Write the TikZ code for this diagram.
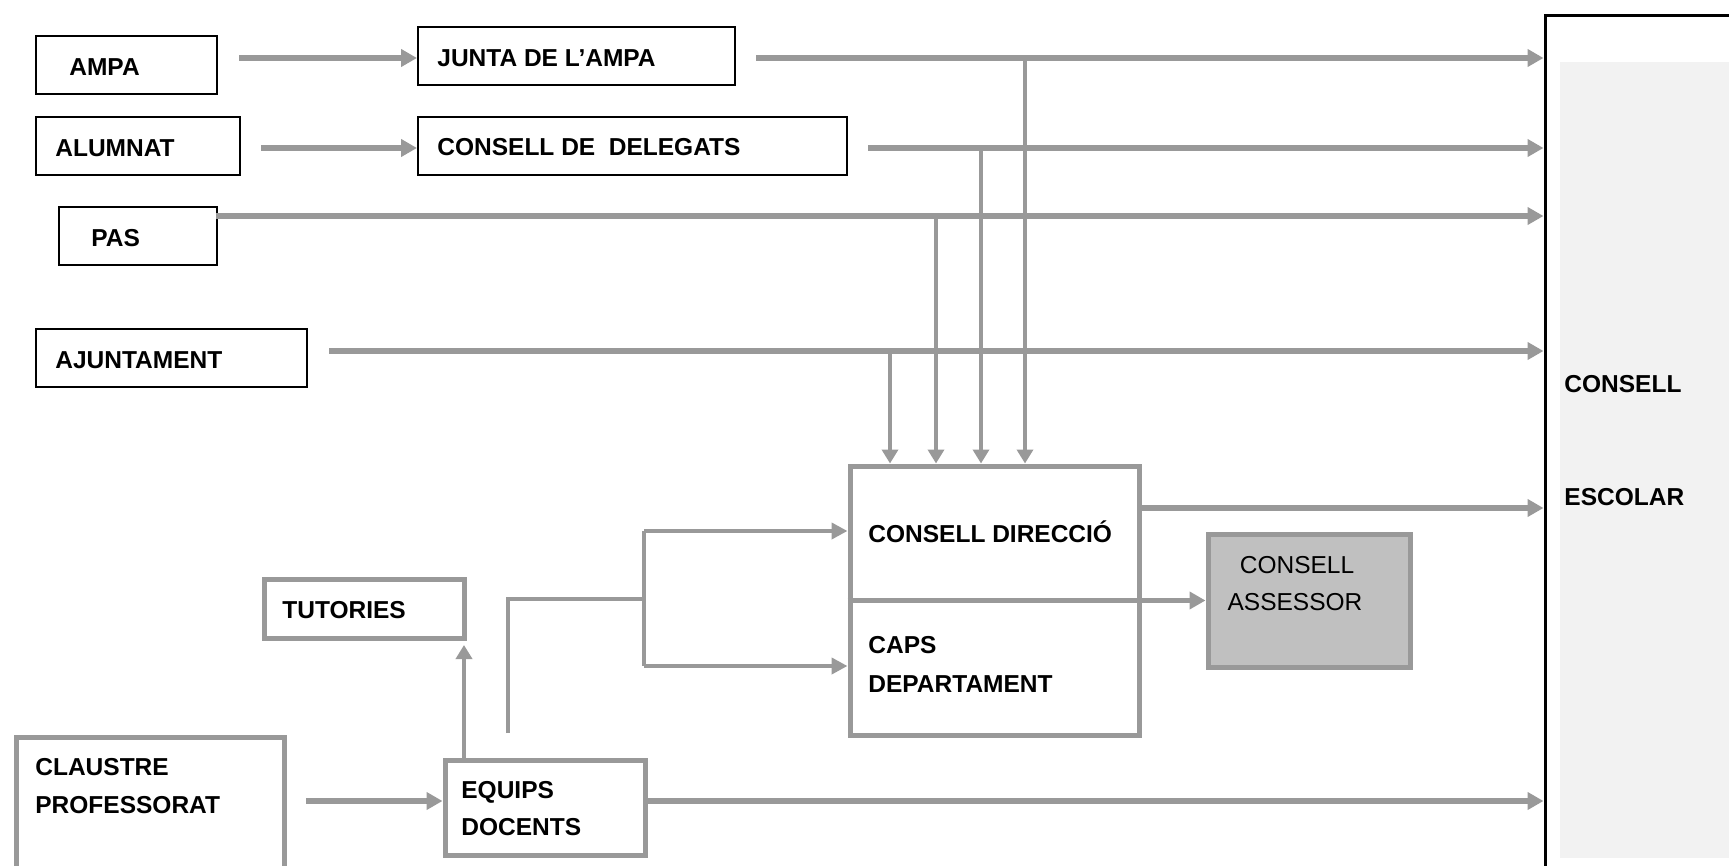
\documentclass[tikz,border=0pt]{standalone}
\usepackage{fontspec}
\setmainfont{Liberation Sans}
\usetikzlibrary{arrows.meta}
\definecolor{lgray}{RGB}{153,153,153}
\definecolor{agray}{RGB}{192,192,192}
\definecolor{cefill}{RGB}{242,242,242}
\tikzset{
  bbox/.style={draw=black,line width=1pt,fill=white,inner sep=0pt,anchor=north west},
  gbox/.style={draw=lgray,line width=2.5pt,inner sep=0pt,anchor=north west},
  lbl/.style={font=\fontsize{12.25}{14}\selectfont\bfseries,inner sep=0pt,anchor=base west},
  lblc/.style={font=\fontsize{12.25}{14}\selectfont,inner sep=0pt,anchor=base},
  harr/.style={draw=lgray,line width=2.75pt,-{Triangle[length=8pt,width=8.5pt]},color=lgray},
  varr/.style={draw=lgray,line width=2.25pt,-{Triangle[length=7pt,width=8pt]},color=lgray},
  gline/.style={draw=lgray,line width=2.25pt},
  farr/.style={draw=lgray,line width=2.25pt,-{Triangle[length=8pt,width=8pt]},color=lgray}
}
\begin{document}
\begin{tikzpicture}[x=0.5pt,y=-0.5pt]
\useasboundingbox (0,0) rectangle (1729,866);
\clip (0,0) rectangle (1729,866);
\fill[white] (0,0) rectangle (1729,866);

% Consell escolar
\node[draw=black,line width=1.5pt,fill=white,inner sep=0pt,anchor=north west,
      minimum width=108pt,minimum height=443pt] (ce) at (1543.5,14.5) {};
\fill[cefill] (1560,62) rectangle (1760,858);
\node[lbl] (ce-t1) at (1564,392) {CONSELL};
\node[lbl] (ce-t2) at (1564,505) {ESCOLAR};

% black boxes
\node[bbox,minimum width=90.5pt,minimum height=29pt] (ampa) at (35,35) {};
\node[bbox,minimum width=158.5pt,minimum height=29pt] (junta) at (417,26) {};
\node[bbox,minimum width=102pt,minimum height=29pt] (alum) at (35,116) {};
\node[bbox,minimum width=214.5pt,minimum height=29pt] (deleg) at (417,116) {};
\node[bbox,minimum width=79pt,minimum height=29pt] (pas) at (58,206) {};
\node[bbox,minimum width=135.5pt,minimum height=29pt] (ajun) at (35,328) {};

% gray boxes
\node[gbox,fill=white,minimum width=100pt,minimum height=29.5pt] (tut) at (261.5,576.5) {};
\node[gbox,minimum width=144.5pt,minimum height=134.5pt] (cd) at (847.5,463.5) {};
\node[gbox,fill=agray,minimum width=101pt,minimum height=66.5pt] (assess) at (1205.5,531.5) {};
\node[gbox,fill=white,minimum width=134pt,minimum height=83pt] (claus) at (13.5,734.5) {};
\node[gbox,fill=white,minimum width=100pt,minimum height=47.5pt] (equips) at (442.5,757.5) {};

% labels
\node[lbl] (ampa-t) at (69,76) {AMPA};
\node[lbl] (junta-t) at (437,67) {JUNTA DE L’AMPA};
\node[lbl] (alum-t) at (55,157) {ALUMNAT};
\node[lbl] (deleg-t) at (437,156) {CONSELL DE\ \ DELEGATS};
\node[lbl] (pas-t) at (91,247) {PAS};
\node[lbl] (ajun-t) at (55,368) {AJUNTAMENT};
\node[lbl] (tut-t) at (282,618) {TUTORIES};
\node[lbl] (claus-t1) at (35,775) {CLAUSTRE};
\node[lbl] (claus-t2) at (35,813) {PROFESSORAT};
\node[lbl] (equips-t1) at (461,798) {EQUIPS};
\node[lbl] (equips-t2) at (461,835) {DOCENTS};
\node[lbl] (cd-t) at (868,542) {CONSELL DIRECCIÓ};
\node[lbl] (caps-t1) at (868,653) {CAPS};
\node[lbl] (caps-t2) at (868,692) {DEPARTAMENT};
\node[lblc] (assess-t1) at (1297,573) {CONSELL};
\node[lblc] (assess-t2) at (1295,610) {ASSESSOR};

% connectors: top rows
\coordinate (c-ampa) at (239,58);
\draw[harr] (c-ampa) -- (c-ampa -| junta.west);
\coordinate (c-alum) at (261,148);
\draw[harr] (c-alum) -- (c-alum -| deleg.west);
\coordinate (c-junta) at (756,58);
\draw[harr] (c-junta) -- (c-junta -| ce.west);
\coordinate (c-deleg) at (868,148);
\draw[harr] (c-deleg) -- (c-deleg -| ce.west);
\coordinate (c-pas) at (216,216);
\draw[harr] (c-pas) -- (c-pas -| ce.west);
\coordinate (c-ajun) at (329,351);
\draw[harr] (c-ajun) -- (c-ajun -| ce.west);

% drops into consell direccio
\coordinate (v1) at (1025,58);
\coordinate (v2) at (981,148);
\coordinate (v3) at (936,216);
\coordinate (v4) at (890,351);
\draw[varr] (v1) -- (v1 |- cd.north);
\draw[varr] (v2) -- (v2 |- cd.north);
\draw[varr] (v3) -- (v3 |- cd.north);
\draw[varr] (v4) -- (v4 |- cd.north);

% consell direccio outputs
\coordinate (c-cd) at (1139,508);
\draw[harr] (c-cd -| cd.east) -- (c-cd -| ce.west);
\draw[harr] (cd.west) -- (assess.west);

% equips docents
\coordinate (c-tut) at (464,645);
\draw[varr] (c-tut |- equips.north) -- (c-tut);
\coordinate (c-eq) at (508,733);
\coordinate (fork) at (644,599);
\coordinate (fork-top) at (644,531);
\coordinate (fork-bot) at (644,666);
\draw[gline] (c-eq) |- (fork);
\draw[gline] (fork-top) -- (fork-bot);
\draw[farr] (fork-top) -- (fork-top -| cd.west);
\draw[farr] (fork-bot) -- (fork-bot -| cd.west);
\coordinate (c-claus) at (306,801);
\draw[harr] (c-claus) -- (c-claus -| equips.west);
\coordinate (c-eqce) at (645,801);
\draw[harr] (c-eqce) -- (c-eqce -| ce.west);
\end{tikzpicture}
\end{document}
